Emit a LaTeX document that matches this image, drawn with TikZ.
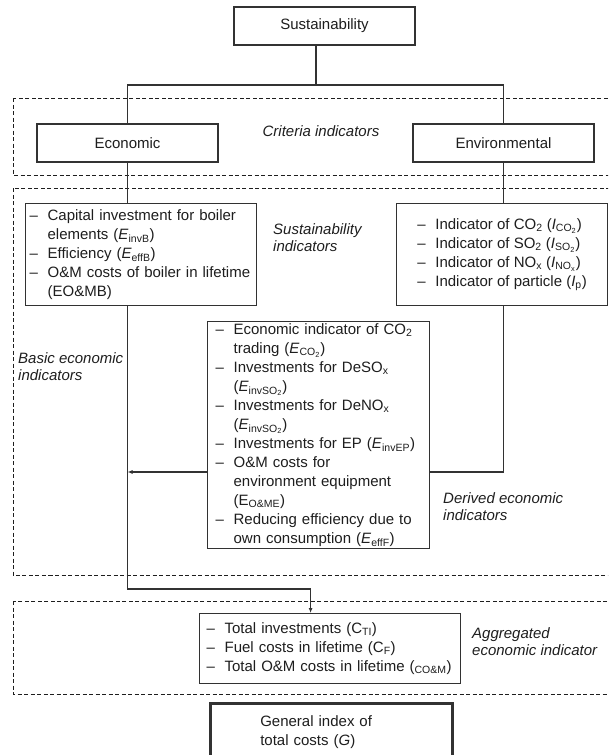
\documentclass[tikz,border=0pt]{standalone}
\usepackage{fontspec}
\setmainfont{Liberation Sans}
\usetikzlibrary{arrows.meta}
\definecolor{Ink}{RGB}{30,30,30}
\definecolor{Wire}{RGB}{50,50,50}
\newcommand{\li}{\makebox[18pt][l]{--}}
\newcommand{\ind}{\hspace*{18pt}}
\newcommand{\sbs}[1]{\textsubscript{#1}}
\tikzset{
  >=Latex,
  box/.style={draw=Wire,line width=1.2pt,fill=white,text=Ink,font=\fontsize{15}{19}\selectfont,inner sep=0pt,align=center},
  listbox/.style={box,align=left,anchor=north west},
  tag/.style={font=\fontsize{15}{17}\selectfont\itshape,text=Ink,align=left,anchor=west,inner sep=0pt},
  zone/.style={draw=Ink,line width=1pt,dash pattern=on 4pt off 2.5pt},
  link/.style={draw=Wire,line width=1.2pt},
  flow/.style={link,-{Latex[length=5pt,width=4pt]}}
}

\begin{document}
\begin{tikzpicture}[x=1pt,y=-1pt]
  \useasboundingbox (0,0) rectangle (608,755);
  \clip (0,0) rectangle (608,755);
  \draw[zone] (13,98) rectangle (620,175);
  \draw[zone] (13,188) rectangle (620,575);
  \draw[zone] (13,601) rectangle (620,694);
  \node[box,minimum width=181pt,minimum height=38pt] (sus) at (324.5,26) {Sustainability};
  \node[box,minimum width=181pt,minimum height=38pt] (eco) at (127.5,143) {Economic};
  \node[box,minimum width=181pt,minimum height=38pt] (env) at (503.5,143) {Environmental};
  \node[tag,anchor=center] (crit) at (321,131) {Criteria indicators};
  \node[listbox,text width=223pt,inner xsep=4pt,minimum height=102pt] (basic) at (25,203) {%
    \li Capital investment for boiler\\
    \ind elements (\textit{E}\sbs{invB})\\
    \li Efficiency (\textit{E}\sbs{effB})\\
    \li O\&M costs of boiler in lifetime\\
    \ind (EO\&MB)};
  \node[box,align=left,anchor=north west,minimum width=211pt,minimum height=102pt] (envind) at (396,203) {%
    \li Indicator of CO\sbs{2} (\textit{I}\sbs{CO\sbs{2}})\\
    \li Indicator of SO\sbs{2} (\textit{I}\sbs{SO\sbs{2}})\\
    \li Indicator of NO\sbs{x} (\textit{I}\sbs{NO\sbs{x}})\\
    \li Indicator of particle (\textit{I}\sbs{p})};
  \node[tag] (sustag) at (273,237.5) {Sustainability\\indicators};
  \node[listbox,text width=206pt,inner xsep=8pt,minimum height=227pt] (der) at (207,321) {%
    \li Economic indicator of CO\sbs{2}\\
    \ind trading (\textit{E}\sbs{CO\sbs{2}})\\
    \li Investments for DeSO\sbs{x}\\
    \ind (\textit{E}\sbs{invSO\sbs{2}})\\
    \li Investments for DeNO\sbs{x}\\
    \ind (\textit{E}\sbs{invSO\sbs{2}})\\
    \li Investments for EP (\textit{E}\sbs{invEP})\\
    \li O\&M costs for\\
    \ind environment equipment\\
    \ind (E\sbs{O\&ME})\\
    \li Reducing efficiency due to\\
    \ind own consumption (\textit{E}\sbs{effF})};
  \node[tag] (basictag) at (18,367) {Basic economic\\indicators};
  \node[tag] (derivtag) at (443,506.5) {Derived economic\\indicators};
  \node[listbox,text width=247pt,inner xsep=7pt,minimum height=70pt] (agg) at (199,613) {%
    \li Total investments (C\sbs{TI})\\
    \li Fuel costs in lifetime (C\sbs{F})\\
    \li Total O\&M costs in lifetime (\sbs{CO\&M})};
  \node[tag] (aggtag) at (472,641.5) {Aggregated\\economic indicator};
  \node[listbox,text width=142pt,inner xsep=50pt,minimum height=58pt,line width=2.6pt] (gen) at (209,702) {%
    General index of\\total costs (\textit{G})};
  \coordinate (split) at (316,85);
  \coordinate (feed) at (0,472);
  \coordinate (bend) at (0,589);
  \draw[link] (split |- sus.south) -- (split);
  \draw[link] (eco) |- (split) -| (env);
  \draw[link] (eco) -- (eco |- basic.north);
  \draw[link] (env) -- (env |- envind.north);
  \draw[link] (env |- envind.south) |- (der.east |- feed);
  \draw[flow] (der.west |- feed) -- (eco |- feed);
  \draw[flow] (eco |- basic.south) -- (eco |- bend) -| ([xshift=-19.5pt]agg.north);
\end{tikzpicture}
\end{document}
